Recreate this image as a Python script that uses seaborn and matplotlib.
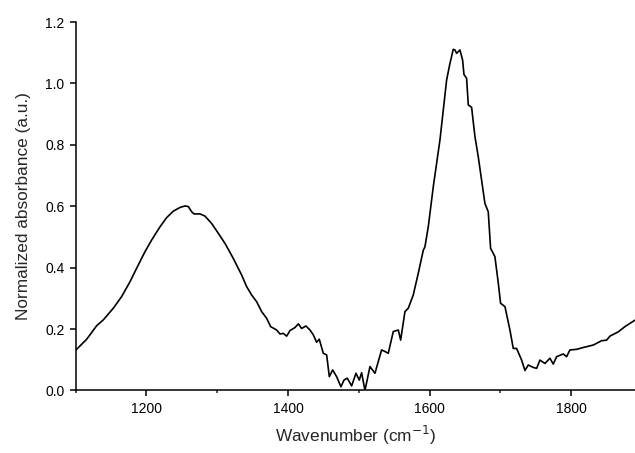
import matplotlib
matplotlib.use("Agg")
import matplotlib.pyplot as plt
import seaborn as sns
import pandas as pd
from matplotlib.ticker import MultipleLocator, FormatStrFormatter

wavenumber = [1100.7, 1115.8, 1129.9, 1139.3, 1153.4, 1165.2, 1176.9, 1188.7, 1198.1,
              1207.5, 1219.3, 1228.7, 1238.1, 1247.5, 1254.6, 1259.3, 1264.0, 1267.3,
              1275.8, 1282.8, 1292.2, 1301.6, 1311.1, 1322.8, 1334.6, 1341.7, 1348.7,
              1355.8, 1362.8, 1369.9, 1375.5, 1384.0, 1388.7, 1393.4, 1398.1, 1402.8,
              1409.9, 1414.6, 1419.3, 1425.4, 1431.1, 1435.8, 1440.5, 1444.2, 1449.9,
              1454.6, 1458.4, 1463.1, 1468.7, 1474.8, 1479.1, 1483.8, 1489.9, 1496.0,
              1500.7, 1504.0, 1508.7, 1515.8, 1522.8, 1532.2, 1537.0, 1541.6, 1548.7,
              1555.8, 1559.1, 1565.2, 1569.9, 1576.9, 1584.0, 1591.1, 1593.4, 1598.1,
              1605.2, 1609.9, 1614.6, 1619.3, 1624.0, 1628.7, 1633.4, 1635.8, 1638.1,
              1642.8, 1646.6, 1648.5, 1652.2, 1654.6, 1659.3, 1664.0, 1668.7, 1673.4,
              1678.1, 1682.8, 1686.1, 1692.2, 1697.0, 1700.2, 1706.4, 1713.4, 1718.1,
              1722.8, 1729.9, 1734.6, 1739.3, 1746.4, 1751.1, 1755.8, 1762.8, 1769.9,
              1774.6, 1779.3, 1788.7, 1793.4, 1798.1, 1807.6, 1817.0, 1831.1, 1842.8,
              1849.9, 1854.6, 1866.4, 1875.8, 1889.9]
absorbance = [0.132, 0.167, 0.211, 0.230, 0.268, 0.306, 0.354, 0.409, 0.452,
              0.490, 0.533, 0.563, 0.584, 0.596, 0.601, 0.599, 0.582, 0.575,
              0.575, 0.568, 0.544, 0.512, 0.479, 0.430, 0.376, 0.338, 0.311,
              0.289, 0.257, 0.235, 0.208, 0.197, 0.184, 0.186, 0.177, 0.195,
              0.205, 0.217, 0.202, 0.210, 0.197, 0.181, 0.157, 0.167, 0.121,
              0.116, 0.045, 0.067, 0.045, 0.012, 0.034, 0.040, 0.015, 0.056,
              0.034, 0.058, 0.0, 0.078, 0.056, 0.132, 0.127, 0.121, 0.192,
              0.197, 0.164, 0.257, 0.268, 0.311, 0.382, 0.457, 0.468, 0.533,
              0.664, 0.740, 0.816, 0.913, 1.011, 1.065, 1.111, 1.109, 1.098,
              1.109, 1.076, 1.029, 1.017, 0.930, 0.922, 0.827, 0.761, 0.685,
              0.609, 0.582, 0.463, 0.436, 0.349, 0.284, 0.273, 0.197, 0.137,
              0.137, 0.099, 0.065, 0.083, 0.075, 0.072, 0.099, 0.088, 0.105,
              0.086, 0.110, 0.119, 0.110, 0.132, 0.134, 0.140, 0.148, 0.162,
              0.164, 0.177, 0.191, 0.208, 0.229]

df = pd.DataFrame({"Wavenumber": wavenumber, "Absorbance": absorbance})

sns.set_style("ticks")
plt.rcParams["font.family"] = ["Liberation Sans", "DejaVu Sans"]

fig = plt.figure(figsize=(6.35, 4.53), dpi=100)
ax = fig.add_axes([0.1189, 0.138, 0.8811, 0.8134])
sns.lineplot(data=df, x="Wavenumber", y="Absorbance", ax=ax, color="black",
             linewidth=1.2, sort=False)

ax.set_xlim(1100, 1890)
ax.set_ylim(0, 1.2)
ax.xaxis.set_major_locator(MultipleLocator(200))
ax.xaxis.set_minor_locator(MultipleLocator(100))
ax.yaxis.set_major_locator(MultipleLocator(0.2))
ax.yaxis.set_major_formatter(FormatStrFormatter("%.1f"))
ax.tick_params(which="major", direction="out", length=4.5, width=1.1, pad=3.5,
               labelsize=10, colors="black")
ax.tick_params(which="minor", direction="out", length=2.5, width=1.1)
for s in ["top", "right"]:
    ax.spines[s].set_visible(False)
for s in ["left", "bottom"]:
    ax.spines[s].set_linewidth(1.1)
    ax.spines[s].set_color("black")

ax.set_xlabel("Wavenumber (cm$^{-1}$)", fontsize=12.4, labelpad=6)
ax.set_ylabel("Normalized absorbance (a.u.)", fontsize=12.4, labelpad=10)

fig.savefig("out.png", dpi=100)
